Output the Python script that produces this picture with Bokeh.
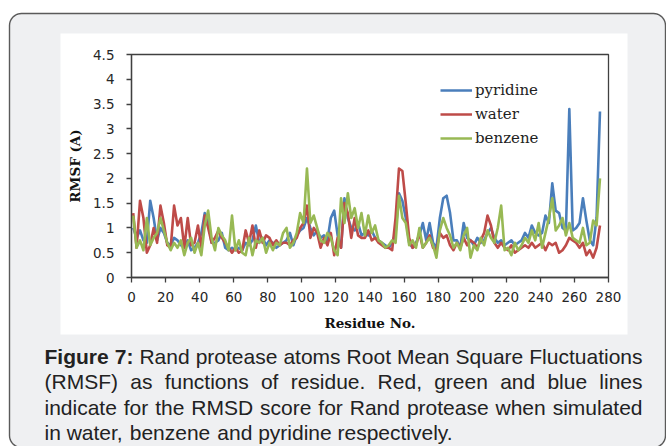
import numpy as np
from bokeh.plotting import figure
from bokeh.models import (Range1d, FixedTicker, CustomJSTickFormatter, Legend, LegendItem,
                          LinearAxis)
from bokeh.core.properties import value
from bokeh.embed import file_html
from bokeh.resources import INLINE

# ---------------- data ----------------
residues = list(range(1, 276, 2))

water = [1.30, 0.60, 1.55, 1.20, 0.50, 0.65, 1.00, 0.70, 1.45, 1.10,
         0.65, 0.60, 1.45, 1.05, 1.20, 0.60, 1.20, 0.65, 0.70, 1.05,
         0.60, 1.25, 1.00, 0.70, 0.80, 0.95, 0.80, 0.70, 0.60, 0.50,
         0.60, 0.50, 0.55, 0.95, 0.70, 1.05, 0.60, 0.95, 0.70, 0.85,
         0.80, 0.65, 0.75, 0.65, 0.70, 0.70, 0.65, 0.75, 0.80, 1.00,
         1.10, 1.45, 0.80, 1.00, 0.90, 0.60, 0.80, 0.65, 0.90, 0.45,
         0.80, 0.60, 1.50, 1.30, 0.80, 1.20, 0.85, 0.80, 0.80, 0.95,
         0.75, 0.80, 0.70, 0.65, 0.60, 0.60, 0.55, 1.20, 2.20, 2.15,
         1.50, 0.80, 0.60, 0.65, 0.90, 0.60, 0.70, 0.85, 0.60, 0.55,
         0.90, 0.80, 0.85, 0.65, 0.55, 0.70, 0.60, 0.80, 0.65, 0.75,
         0.70, 0.60, 0.75, 0.90, 1.25, 1.05, 0.70, 0.60, 0.70, 0.60,
         0.55, 0.65, 0.50, 0.55, 0.60, 0.65, 0.60, 0.70, 0.60, 0.65,
         0.70, 0.55, 0.70, 0.65, 0.70, 0.50, 0.55, 0.65, 0.80, 0.75,
         0.70, 0.60, 0.70, 0.45, 0.55, 0.40, 0.60, 1.05]

pyridine = [1.00, 0.80, 0.95, 0.75, 0.70, 1.55, 1.20, 0.75, 1.00, 0.90,
            0.70, 0.65, 0.80, 0.75, 0.65, 0.60, 0.75, 0.55, 0.60, 0.70,
            0.90, 1.30, 1.15, 0.70, 0.70, 0.75, 0.90, 0.60, 0.55, 0.60,
            0.55, 0.60, 0.55, 0.70, 0.65, 0.75, 1.05, 0.70, 0.80, 0.65,
            0.75, 0.70, 0.60, 0.65, 0.70, 0.75, 0.90, 0.65, 0.85, 0.95,
            1.00, 1.20, 1.00, 0.85, 0.95, 0.80, 0.85, 0.75, 1.20, 1.35,
            0.85, 0.60, 1.60, 1.20, 1.00, 0.95, 1.10, 0.85, 0.90, 0.85,
            0.95, 0.80, 0.75, 0.70, 0.65, 0.60, 0.70, 0.90, 1.70, 1.55,
            1.20, 0.70, 0.60, 0.70, 0.85, 1.10, 0.75, 1.10, 0.70, 0.60,
            1.20, 1.60, 1.65, 1.30, 0.75, 0.75, 0.60, 1.10, 0.80, 0.75,
            0.65, 0.80, 0.70, 0.75, 0.90, 1.00, 0.80, 0.70, 0.75, 0.65,
            0.70, 0.75, 0.65, 0.70, 0.75, 0.90, 0.80, 1.05, 0.90, 0.85,
            0.90, 1.25, 1.10, 1.90, 1.35, 1.30, 1.00, 0.95, 3.40, 0.95,
            1.00, 1.10, 1.60, 1.15, 0.75, 0.65, 1.20, 3.35]

benzene = [1.25, 0.60, 0.75, 0.55, 1.20, 0.65, 0.80, 0.90, 1.20, 0.95,
           0.70, 0.55, 0.70, 0.60, 0.75, 0.45, 0.70, 0.80, 0.50, 0.70,
           0.45, 1.05, 1.35, 0.80, 0.55, 1.00, 0.85, 0.75, 0.55, 1.25,
           0.55, 0.75, 0.50, 0.45, 0.80, 0.45, 0.75, 0.70, 0.80, 0.50,
           0.70, 0.55, 0.70, 0.65, 0.90, 1.00, 0.60, 0.70, 0.90, 1.30,
           1.10, 2.20, 1.10, 1.25, 1.00, 0.75, 0.70, 0.90, 0.80, 0.55,
           0.45, 1.60, 1.10, 1.70, 1.20, 1.40, 1.00, 1.30, 0.85, 1.25,
           0.90, 1.05, 0.75, 0.70, 0.60, 0.65, 0.75, 0.70, 1.65, 1.20,
           1.10, 0.65, 0.75, 0.60, 1.00, 0.60, 0.70, 0.80, 0.65, 0.40,
           0.95, 1.20, 1.00, 0.85, 0.60, 0.70, 0.55, 0.85, 1.00, 0.40,
           0.65, 0.55, 0.80, 0.65, 0.95, 0.80, 0.70, 1.00, 1.45, 0.55,
           0.60, 0.45, 0.70, 0.55, 0.65, 0.80, 0.70, 0.95, 0.75, 1.10,
           0.60, 0.90, 1.20, 1.60, 0.95, 1.05, 1.20, 0.85, 1.10, 0.80,
           0.75, 0.70, 1.00, 0.65, 0.70, 1.15, 1.05, 2.00]

series_names = ["pyridine", "water", "benzene"]
x_ticks = list(range(0, 281, 20))
y_ticks = [0, 0.5, 1, 1.5, 2, 2.5, 3, 3.5, 4, 4.5]
x_lim = (0, 280)
y_lim = (0, 4.5)

caption_lines = [
    "Figure 7: Rand protease atoms Root Mean Square Fluctuations",
    "(RMSF) as functions of residue. Red, green and blue lines",
    "indicate for the RMSD score for Rand protease when simulated",
    "in water, benzene and pyridine respectively.",
]

# ---------------- page layout (page pixels) ----------------
PW, PH = 666, 446
GRAY, EDGE = "#eff0f2", "#5a5a5a"
BLUE, RED, GREEN = "#4A7EBB", "#BE4B48", "#98B954"
AXC = "#404040"

BL, BT, BR, BB, RAD = 9, 13, 665, 447, 12      # rounded panel
CL, CT, CR, CB = 60, 33, 627, 334              # white chart card
FL, FT, FR, FB = 131, 54, 608, 277             # plot area


def rounded_rect(L, T, R, B, r, n=10):
    xs, ys = [], []
    for cx, cy, a0 in ((L + r, T + r, np.pi), (R - r, T + r, 1.5 * np.pi),
                       (R - r, B - r, 0.0), (L + r, B - r, 0.5 * np.pi)):
        a = np.linspace(a0, a0 + 0.5 * np.pi, n)
        xs += list(cx + r * np.cos(a))
        ys += list(cy + r * np.sin(a))
    return xs, ys


box_x, box_y = rounded_rect(BL, BT, BR, BB, RAD)

# data ranges that put the plot area where it sits on the page
kx = (x_lim[1] - x_lim[0]) / (FR - FL)
ky = (y_lim[1] - y_lim[0]) / (FB - FT)
res_range = Range1d(x_lim[0] - FL * kx, x_lim[1] + (PW - FR) * kx)
rmsf_range = Range1d(y_lim[0] - (PH - FB) * ky, y_lim[1] + FT * ky)

p = figure(width=PW, height=PH, x_range=Range1d(0, PW), y_range=Range1d(PH, 0),
           x_axis_type=None, y_axis_type=None, min_border=0,
           output_backend="svg", toolbar_location=None,
           border_fill_color="white", background_fill_color="white",
           outline_line_color=None)
p.extra_x_ranges = {"res": res_range}
p.extra_y_ranges = {"rmsf": rmsf_range}

# page background: rounded gray panel and white chart card
p.patch(box_x, box_y, fill_color=GRAY, line_color=EDGE, line_width=1.4)
p.quad(left=CL, right=CR, top=CT, bottom=CB, fill_color="white", line_color=None)

# plot area border
p.quad(left=x_lim[0], right=x_lim[1], bottom=y_lim[0], top=y_lim[1],
       x_range_name="res", y_range_name="rmsf",
       fill_alpha=0, line_color=AXC, line_width=1.3)

rb = p.line(residues, pyridine, line_width=2.6, color=BLUE, line_join="round",
            x_range_name="res", y_range_name="rmsf")
rr = p.line(residues, water, line_width=2.6, color=RED, line_join="round",
            x_range_name="res", y_range_name="rmsf")
rg = p.line(residues, benzene, line_width=2.6, color=GREEN, line_join="round",
            x_range_name="res", y_range_name="rmsf")

legend = Legend(items=[LegendItem(label=series_names[0], renderers=[rb]),
                       LegendItem(label=series_names[1], renderers=[rr]),
                       LegendItem(label=series_names[2], renderers=[rg])],
                location=(440, PH - 148), orientation="vertical",
                glyph_width=32, glyph_height=20, label_height=20, spacing=4,
                label_standoff=3, padding=0, margin=0,
                border_line_alpha=0, background_fill_alpha=0,
                label_text_font="DejaVu Serif", label_text_font_size="15px",
                label_text_color="#222222")
p.add_layout(legend)

xaxis = LinearAxis(x_range_name="res", y_range_name="rmsf", fixed_location=y_lim[0],
                   bounds=x_lim, ticker=FixedTicker(ticks=x_ticks),
                   axis_label="Residue No.")
yaxis = LinearAxis(x_range_name="res", y_range_name="rmsf", fixed_location=x_lim[0],
                   bounds=y_lim, ticker=FixedTicker(ticks=y_ticks), axis_label="RMSF (A)",
                   formatter=CustomJSTickFormatter(
                       code="return String(Math.round(tick*10)/10);"))
for ax in (xaxis, yaxis):
    ax.axis_line_color = AXC
    ax.axis_line_width = 1.3
    ax.major_tick_line_color = AXC
    ax.major_tick_line_width = 1.3
    ax.major_tick_out = 5
    ax.major_tick_in = 0
    ax.minor_tick_line_color = None
    ax.major_label_text_font = "DejaVu Sans"
    ax.major_label_text_font_size = "13.5px"
    ax.major_label_text_color = "#262626"
    ax.axis_label_text_font = "DejaVu Serif"
    ax.axis_label_text_font_style = "bold"
    ax.axis_label_text_font_size = "13.5px"
    ax.axis_label_text_color = "#111111"
xaxis.major_label_standoff = 9
yaxis.major_label_standoff = 12
xaxis.axis_label_standoff = 10
yaxis.axis_label_standoff = 7
p.add_layout(xaxis, "below")
p.add_layout(yaxis, "left")

# ---------------- caption (justified like the reference) ----------------
REG = {' ': 278, '(': 333, ')': 333, ',': 278, '.': 278, ':': 278, 'R': 722, 'M': 833,
       'S': 667, 'F': 611, 'D': 722, 'a': 556, 'b': 556, 'c': 500, 'd': 556, 'e': 556,
       'f': 278, 'g': 556, 'h': 556, 'i': 222, 'l': 222, 'm': 833, 'n': 556, 'o': 556,
       'p': 556, 'q': 556, 'r': 333, 's': 500, 't': 278, 'u': 556, 'v': 500, 'w': 722,
       'y': 500, '7': 556}
BLD = {'F': 611, 'i': 278, 'g': 611, 'u': 611, 'r': 389, 'e': 556, '7': 556, ':': 333}
FS = 21
CAP_L, CAP_R = 44, 642
baselines = [355.5, 381, 406.5, 431.5]


def wwidth(word, bold):
    tbl = BLD if bold else REG
    return sum(tbl.get(c, 556) for c in word) / 1000.0 * FS


reg_w, reg_x, reg_y, bold_w, bold_x, bold_y = [], [], [], [], [], []
for li, text in enumerate(caption_lines):
    words = text.split(" ")
    bolds = [li == 0 and wi < 2 for wi in range(len(words))]
    widths = [wwidth(w, b) for w, b in zip(words, bolds)]
    if li < len(caption_lines) - 1:
        gap = (CAP_R - CAP_L - sum(widths)) / (len(words) - 1)
    else:
        gap = REG[' '] / 1000.0 * FS
    x = CAP_L
    for w, b, wd in zip(words, bolds, widths):
        (bold_w if b else reg_w).append(w)
        (bold_x if b else reg_x).append(x)
        (bold_y if b else reg_y).append(baselines[li])
        x += wd + gap

p.text(x=reg_x, y=reg_y, text=reg_w, text_font=value("Liberation Sans"),
       text_font_size="21px", text_color="#222222", text_baseline="alphabetic",
       text_align="left")
p.text(x=bold_x, y=bold_y, text=bold_w, text_font=value("Liberation Sans"),
       text_font_size="21px", text_font_style="bold", text_color="#222222",
       text_baseline="alphabetic", text_align="left")

open("out.html", "w").write(file_html(p, INLINE))
